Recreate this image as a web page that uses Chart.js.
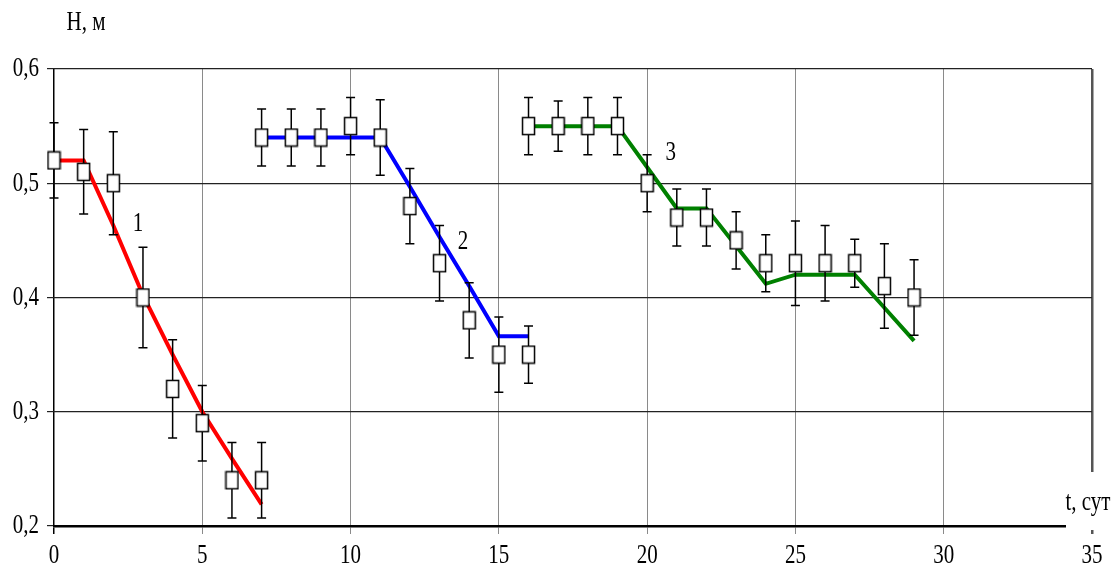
<!DOCTYPE html>
<html>
<head>
<meta charset="utf-8">
<script src="https://cdn.jsdelivr.net/npm/chart.js@4.4.1/dist/chart.umd.min.js"></script>
<style>
  body { margin: 0; background: #fff; }
  #wrap { width: 1112px; height: 583px; position: relative; }
</style>
</head>
<body>
<div id="wrap"><canvas id="chart"></canvas></div>
<script>
// measured levels, error half-widths and fitted model, one set per stage
const days1 = [0, 1, 2, 3, 4, 5, 6, 7];
const h1 = [0.52, 0.51, 0.50, 0.40, 0.32, 0.29, 0.24, 0.24];
const err1 = [0.033, 0.037, 0.045, 0.044, 0.043, 0.033, 0.033, 0.033];
const model1 = [0.52, 0.52, 0.463, 0.402, 0.35, 0.30, 0.259, 0.219];

const days2 = [7, 8, 9, 10, 11, 12, 13, 14, 15, 16];
const h2 = [0.54, 0.54, 0.54, 0.55, 0.54, 0.48, 0.43, 0.38, 0.35, 0.35];
const err2 = [0.025, 0.025, 0.025, 0.025, 0.033, 0.033, 0.033, 0.033, 0.033, 0.025];
const model2 = [0.54, 0.54, 0.54, 0.54, 0.54, 0.497, 0.453, 0.41, 0.366, 0.366];

const days3 = [16, 17, 18, 19, 20, 21, 22, 23, 24, 25, 26, 27, 28, 29];
const h3 = [0.55, 0.55, 0.55, 0.55, 0.50, 0.47, 0.47, 0.45, 0.43, 0.43, 0.43, 0.43, 0.41, 0.40];
const err3 = [0.025, 0.022, 0.025, 0.025, 0.025, 0.025, 0.025, 0.025, 0.025, 0.037, 0.033, 0.021, 0.037, 0.033];
const model3 = [0.55, 0.55, 0.55, 0.55, 0.514, 0.478, 0.478, 0.445, 0.412, 0.42, 0.42, 0.42, 0.391, 0.362];

const curveLabels = ['1', '2', '3'];
const curveLabelPos = [[2.83, 0.465], [13.79, 0.449], [20.8, 0.527]];
const yTitle = 'H, м';
const xTitle = 't, сут';

const pts = (xs, ys) => xs.map((x, i) => ({ x: x, y: ys[i] }));
const errs = [err1, err2, err3];

// tall white box marker
const marker = document.createElement('canvas');
marker.width = 15; marker.height = 20;
(() => {
  const c = marker.getContext('2d');
  c.fillStyle = '#fff';
  c.fillRect(1.5, 1.5, 12, 17);
  c.strokeStyle = '#000';
  c.lineWidth = 1.5;
  c.strokeRect(1.5, 1.5, 12, 17);
})();

const FONT = '28px "Liberation Serif"';
const SQUEEZE = 0.75;

function narrowText(ctx, txt, x, y, align) {
  ctx.save();
  ctx.translate(x, y);
  ctx.scale(SQUEEZE, 1);
  ctx.textAlign = align;
  ctx.textBaseline = 'middle';
  ctx.fillText(txt, 0, 0);
  ctx.restore();
}

const errorBars = {
  id: 'errorBars',
  beforeDatasetDraw(chart, args) {
    if (args.index > 2) return;
    const ctx = chart.ctx;
    const xs = chart.scales.x, ys = chart.scales.y;
    const e = errs[args.index];
    ctx.save();
    ctx.strokeStyle = '#000';
    ctx.lineWidth = 1.5;
    chart.data.datasets[args.index].data.forEach((p, i) => {
      const px = xs.getPixelForValue(p.x);
      const top = ys.getPixelForValue(p.y + e[i]);
      const bot = ys.getPixelForValue(p.y - e[i]);
      ctx.beginPath();
      ctx.moveTo(px, top); ctx.lineTo(px, bot);
      ctx.moveTo(px - 4.5, top); ctx.lineTo(px + 4.5, top);
      ctx.moveTo(px - 4.5, bot); ctx.lineTo(px + 4.5, bot);
      ctx.stroke();
    });
    ctx.restore();
  }
};

const texts = {
  id: 'texts',
  afterDraw(chart) {
    const ctx = chart.ctx;
    const xs = chart.scales.x, ys = chart.scales.y;
    const area = chart.chartArea;
    ctx.save();
    ctx.fillStyle = '#000';
    ctx.font = FONT;
    ys.ticks.forEach(t => {
      narrowText(ctx, t.value.toFixed(1).replace('.', ','), area.left - 15, ys.getPixelForValue(t.value), 'right');
    });
    xs.ticks.forEach(t => {
      narrowText(ctx, String(t.value), xs.getPixelForValue(t.value), area.bottom + 30, 'center');
    });
    curveLabels.forEach((s, i) => {
      narrowText(ctx, s, xs.getPixelForValue(curveLabelPos[i][0]), ys.getPixelForValue(curveLabelPos[i][1]), 'center');
    });
    narrowText(ctx, yTitle, area.left + 32, area.top - 46, 'center');
    // title sits on a white patch that hides the axis end
    ctx.fillStyle = '#fff';
    ctx.fillRect(area.right - 26, area.bottom - 54, 60, 58);
    ctx.fillStyle = '#000';
    narrowText(ctx, xTitle, area.right - 4, area.bottom - 23, 'center');
    ctx.restore();
  }
};

function draw() {
  new Chart(document.getElementById('chart'), {
    type: 'scatter',
    data: {
      datasets: [
        { data: pts(days1, h1), pointStyle: marker, pointRadius: 8, showLine: false, clip: false },
        { data: pts(days2, h2), pointStyle: marker, pointRadius: 8, showLine: false, clip: false },
        { data: pts(days3, h3), pointStyle: marker, pointRadius: 8, showLine: false, clip: false },
        { data: pts(days1, model1), showLine: true, borderColor: '#ff0000', borderWidth: 4, pointRadius: 0 },
        { data: pts(days2, model2), showLine: true, borderColor: '#0000ff', borderWidth: 4, pointRadius: 0 },
        { data: pts(days3, model3), showLine: true, borderColor: '#008000', borderWidth: 4, pointRadius: 0 }
      ]
    },
    options: {
      responsive: true,
      maintainAspectRatio: false,
      animation: false,
      layout: { padding: { top: 69, right: 20, left: 0, bottom: 0 } },
      plugins: { legend: { display: false }, tooltip: { enabled: false } },
      scales: {
        x: {
          type: 'linear', min: 0, max: 35,
          ticks: { stepSize: 5, display: false },
          grid: {
            tickLength: 8,
            color: c => c.tick.value === 0 ? '#000' : (c.tick.value === 35 ? '#555' : '#8a8a8a'),
            lineWidth: c => c.tick.value === 0 ? 1.5 : (c.tick.value === 35 ? 2.5 : 1)
          },
          border: { display: true, color: '#000', width: 2.5 },
          afterFit: s => { s.height = 57; }
        },
        y: {
          min: 0.2, max: 0.6,
          ticks: { stepSize: 0.1, display: false },
          grid: { tickLength: 7, color: '#222', lineWidth: 1.2 },
          border: { display: false },
          afterFit: s => { s.width = 54; }
        }
      }
    },
    plugins: [errorBars, texts]
  });
}

document.fonts.load(FONT, '0,6 Hм').then(draw, draw);
</script>
</body>
</html>
